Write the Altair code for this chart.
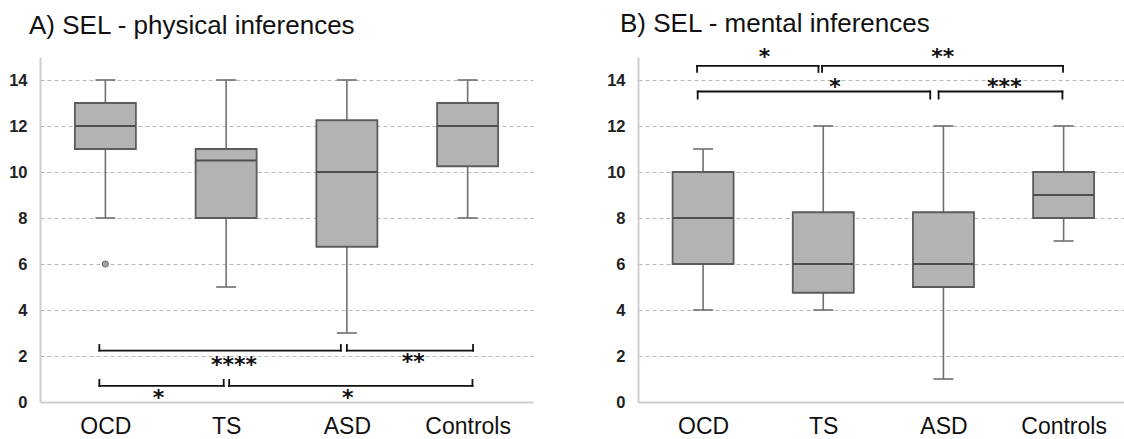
import altair as alt
import pandas as pd

# ---------------- data ----------------
cats = ["OCD", "TS", "ASD", "Controls"]
cat_pos = [0, 1, 2, 3]

# A) physical inferences
phys_min = [8, 5, 3, 8]
phys_q1 = [11, 8, 6.75, 10.25]
phys_med = [12, 10.5, 10, 12]
phys_q3 = [13, 11, 12.25, 13]
phys_max = [14, 14, 14, 14]
phys_out_pos = [0]
phys_out_val = [6]

phys_br_x1 = [-0.05, 2.0, -0.05, 1.025]
phys_br_x2 = [1.95, 3.045, 0.98, 3.04]
phys_br_y = [2.23, 2.23, 0.70, 0.70]
phys_br_tip = [2.48, 2.48, 0.96, 0.96]
phys_star_x = [1.066, 2.55, 0.44, 2.007]
phys_star_y = [1.62, 1.72, 0.18, 0.18]
phys_star_txt = ["****", "**", "*", "*"]

# B) mental inferences
ment_min = [4, 4, 1, 7]
ment_q1 = [6, 4.75, 5, 8]
ment_med = [8, 6, 6, 9]
ment_q3 = [10, 8.25, 8.25, 10]
ment_max = [11, 12, 12, 12]

ment_br_x1 = [-0.05, 0.99, -0.045, 1.96]
ment_br_x2 = [0.96, 2.995, 1.89, 2.99]
ment_br_y = [14.61, 14.61, 13.50, 13.50]
ment_br_tip = [14.35, 14.35, 13.19, 13.19]
ment_star_x = [0.511, 1.994, 1.097, 2.507]
ment_star_y = [14.98, 14.98, 13.7, 13.7]
ment_star_txt = ["*", "**", "*", "***"]

y_ticks = [0, 2, 4, 6, 8, 10, 12, 14]

BOX_FILL = "#b3b3b3"
BOX_STROKE = "#5c5c5c"
WHISK = "#707070"
FONT = "Liberation Sans"


def panel(title, mins, q1s, meds, q3s, maxs, bx1, bx2, by, btip, sx, sy, stxt,
          width, x_max, title_dx, title_offset, label_pad, out_pos=None, out_val=None):
    box = pd.DataFrame({"pos": cat_pos, "cat": cats, "min": mins, "q1": q1s,
                        "med": meds, "q3": q3s, "max": maxs})
    horiz = pd.DataFrame({"x1": bx1, "x2": bx2, "y": by})
    tips = pd.DataFrame({"x": bx1 + bx2, "y": by + by, "y2": btip + btip})
    stars = pd.DataFrame({"x": sx, "y": sy, "t": stxt})

    label_expr = "[" + ",".join("'%s'" % c for c in cats) + "][datum.value]"
    xs = alt.Scale(domain=[-0.5, x_max], nice=False, zero=False)
    ys = alt.Scale(domain=[0, 15], nice=False, zero=True)
    x_axis = alt.Axis(values=cat_pos, labelExpr=label_expr, grid=False, ticks=False,
                      domainColor="#cfcfcf", domainWidth=2, labelFont=FONT,
                      labelFontSize=23, labelColor="#111", labelPadding=label_pad,
                      labelFlush=False, labelOverlap=False, title=None)
    y_axis = alt.Axis(values=y_ticks, grid=True, gridDash=[4, 3], gridColor="#b8b8b8",
                      gridWidth=1, ticks=False, domainColor="#cfcfcf", domainWidth=2,
                      labelFont=FONT, labelFontWeight="bold", labelFontSize=16.5,
                      labelColor="#222", labelPadding=13, minExtent=40, maxExtent=40,
                      title=None)

    base = alt.Chart(box)
    axes = base.mark_rule(opacity=0).encode(
        x=alt.X("pos:Q", scale=xs, axis=x_axis),
        y=alt.Y("min:Q", scale=ys, axis=y_axis),
    )
    wl = base.mark_rule(color=WHISK, strokeWidth=1.6).encode(
        x=alt.X("pos:Q", scale=xs), y=alt.Y("min:Q", scale=ys), y2="q1:Q")
    wh = base.mark_rule(color=WHISK, strokeWidth=1.6).encode(
        x=alt.X("pos:Q", scale=xs), y=alt.Y("q3:Q", scale=ys), y2="max:Q")
    cap_lo = base.mark_tick(orient="horizontal", size=20, thickness=1.6, color=WHISK, opacity=1).encode(
        x=alt.X("pos:Q", scale=xs), y=alt.Y("min:Q", scale=ys))
    cap_hi = base.mark_tick(orient="horizontal", size=20, thickness=1.6, color=WHISK, opacity=1).encode(
        x=alt.X("pos:Q", scale=xs), y=alt.Y("max:Q", scale=ys))
    bx = base.mark_bar(size=61, fill=BOX_FILL, stroke=BOX_STROKE, strokeWidth=1.8).encode(
        x=alt.X("pos:Q", scale=xs), y=alt.Y("q1:Q", scale=ys), y2="q3:Q")
    med = base.mark_tick(orient="horizontal", size=61, thickness=2, color="#4f4f4f", opacity=1).encode(
        x=alt.X("pos:Q", scale=xs), y=alt.Y("med:Q", scale=ys))

    layers = [axes, wl, wh, cap_lo, cap_hi, bx, med]

    if out_pos is not None:
        outl = pd.DataFrame({"pos": out_pos, "v": out_val})
        layers.append(alt.Chart(outl).mark_point(filled=True, size=38, fill="#a0a0a0",
                                                 stroke="#6e6e6e", strokeWidth=1, opacity=1).encode(
            x=alt.X("pos:Q", scale=xs), y=alt.Y("v:Q", scale=ys)))

    hl = alt.Chart(horiz).mark_rule(color="#111", strokeWidth=1.8, strokeCap="square").encode(
        x=alt.X("x1:Q", scale=xs), x2="x2:Q", y=alt.Y("y:Q", scale=ys))
    tl = alt.Chart(tips).mark_rule(color="#111", strokeWidth=1.8, strokeCap="square").encode(
        x=alt.X("x:Q", scale=xs), y=alt.Y("y:Q", scale=ys), y2="y2:Q")
    st = alt.Chart(stars).mark_text(font="DejaVu Sans", fontWeight="bold", fontSize=22,
                                    baseline="middle", align="center", color="#111").encode(
        x=alt.X("x:Q", scale=xs), y=alt.Y("y:Q", scale=ys), text="t:N")
    layers += [hl, tl, st]

    return alt.layer(*layers).properties(
        width=width, height=345,
        title=alt.TitleParams(title, anchor="start", frame="group", dx=title_dx,
                              fontSize=26, font=FONT, fontWeight="normal", color="#111",
                              baseline="alphabetic", offset=title_offset),
    )


left = panel("A) SEL - physical inferences", phys_min, phys_q1, phys_med, phys_q3, phys_max,
             phys_br_x1, phys_br_x2, phys_br_y, phys_br_tip, phys_star_x, phys_star_y, phys_star_txt,
             width=493, x_max=3.5, title_dx=-11, title_offset=-2.5, label_pad=13,
             out_pos=phys_out_pos, out_val=phys_out_val)
right = panel("B) SEL - mental inferences", ment_min, ment_q1, ment_med, ment_q3, ment_max,
              ment_br_x1, ment_br_x2, ment_br_y, ment_br_tip, ment_star_x, ment_star_y, ment_star_txt,
              width=486, x_max=-0.5 + 486 / 122.7, title_dx=-18, title_offset=-12, label_pad=13)

chart = alt.hconcat(left, right, spacing=65).configure(
    padding={"left": 0, "top": 11, "right": 0, "bottom": 0},
    background="white",
).configure_view(stroke=None)

chart.save("out.html", embed_options={"renderer": "svg", "actions": False})
